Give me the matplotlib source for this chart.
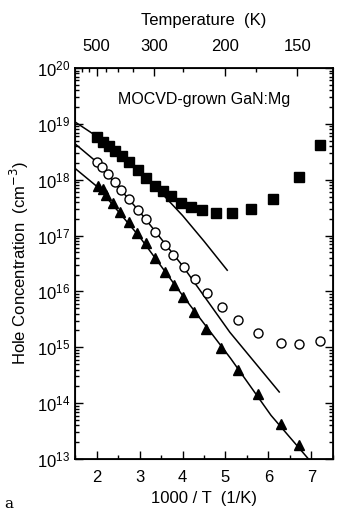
import numpy as np
import matplotlib
matplotlib.use("Agg")
import matplotlib.pyplot as plt
from matplotlib.ticker import MultipleLocator, FixedLocator, NullFormatter

plt.rcParams['font.family'] = ['Liberation Sans', 'DejaVu Sans']

# 1000/T (1/K) and log10(hole concentration / cm^-3)
sq_x = [2.00, 2.155, 2.295, 2.43, 2.585, 2.76, 2.96, 3.15, 3.35, 3.54, 3.73,
        3.97, 4.20, 4.45, 4.79, 5.16, 5.59, 6.10, 6.71, 7.20]
sq_log = [18.77, 18.68, 18.60, 18.52, 18.43, 18.31, 18.17, 18.03, 17.88, 17.79,
          17.70, 17.59, 17.51, 17.45, 17.41, 17.41, 17.47, 17.66, 18.05, 18.62]

ci_x = [2.02, 2.13, 2.27, 2.43, 2.58, 2.76, 2.96, 3.14, 3.37, 3.60, 3.79,
        4.03, 4.29, 4.58, 4.91, 5.30, 5.75, 6.29, 6.71, 7.19]
ci_log = [18.31, 18.22, 18.10, 17.96, 17.82, 17.66, 17.46, 17.29, 17.07, 16.84,
          16.65, 16.44, 16.22, 15.975, 15.72, 15.48, 15.25, 15.08, 15.05, 15.12]

tr_x = [2.04, 2.14, 2.23, 2.39, 2.55, 2.75, 2.94, 3.14, 3.37, 3.59, 3.80,
        4.02, 4.27, 4.55, 4.90, 5.29, 5.76, 6.29, 6.71]
tr_log = [17.89, 17.83, 17.72, 17.59, 17.42, 17.25, 17.05, 16.86, 16.60, 16.35,
          16.12, 15.90, 15.64, 15.32, 14.98, 14.60, 14.16, 13.63, 13.25]

# fitted curves
fit1_x = [1.49, 2.0, 2.5, 3.0, 3.5, 4.0, 4.5, 5.04]
fit1_log = [19.04, 18.78, 18.48, 18.14, 17.77, 17.36, 16.90, 16.38]
fit2_x = [1.49, 2.0, 3.0, 4.0, 5.1, 6.25]
fit2_log = [18.65, 18.32, 17.43, 16.46, 15.27, 14.20]
fit3_x = [1.49, 2.04, 3.0, 4.0, 5.12, 6.06, 6.93]
fit3_log = [18.21, 17.86, 16.98, 15.93, 14.80, 13.78, 13.0]

temp_major = [500, 300, 200, 150]
temp_minor = [600, 550, 450, 400, 350, 250, 175]

fig = plt.figure(figsize=(3.4, 5.18), dpi=100)
ax = fig.add_axes([0.2206, 0.1139, 0.7588, 0.7548])

def p(v):
    return 10 ** np.array(v)

ax.plot(fit1_x, p(fit1_log), color='black', lw=1.1)
ax.plot(fit2_x, p(fit2_log), color='black', lw=1.1)
ax.plot(fit3_x, p(fit3_log), color='black', lw=1.1)
ax.plot(sq_x, p(sq_log), 's', color='black', ms=7, ls='none')
ax.plot(ci_x, p(ci_log), 'o', mfc='white', mec='black', mew=1.0, ms=6.5, ls='none')
ax.plot(tr_x, p(tr_log), '^', color='black', ms=7.5, ls='none')

ax.set_yscale('log')
ax.set_ylim(1e13, 1e20)
ax.set_xlim(1.5, 7.5)
ax.xaxis.set_major_locator(MultipleLocator(1))
ax.xaxis.set_minor_locator(MultipleLocator(0.5))
ax.tick_params(which='both', direction='in', left=True, right=True, bottom=True, top=False,
               labelsize=12, width=1.0)
ax.tick_params(which='major', length=6)
ax.tick_params(axis='x', which='major', pad=8)
ax.tick_params(which='minor', length=3)
for s in ax.spines.values():
    s.set_linewidth(1.3)

ax.set_xlabel('1000 / T  (1/K)', fontsize=12, labelpad=4)
ax.set_ylabel('Hole Concentration  (cm$^{-3}$)', fontsize=12, labelpad=4)

ax2 = ax.twiny()
ax2.set_xlim(ax.get_xlim())
ax2.set_xticks([1000 / t for t in temp_major])
ax2.set_xticklabels([str(t) for t in temp_major])
ax2.xaxis.set_minor_locator(FixedLocator([1000 / t for t in temp_minor]))
ax2.xaxis.set_minor_formatter(NullFormatter())
ax2.tick_params(which='both', direction='in', labelsize=12, width=1.0)
ax2.tick_params(which='major', length=6, pad=10)
ax2.tick_params(which='minor', length=3)
ax2.set_xlabel('Temperature  (K)', fontsize=12, labelpad=10)

ax.text(0.5, 0.92, 'MOCVD-grown GaN:Mg', transform=ax.transAxes, ha='center', va='center',
        fontsize=11.5)
fig.text(0.012, 0.02, 'a', fontsize=11, family='DejaVu Serif')

fig.savefig('out.png', dpi=100)
